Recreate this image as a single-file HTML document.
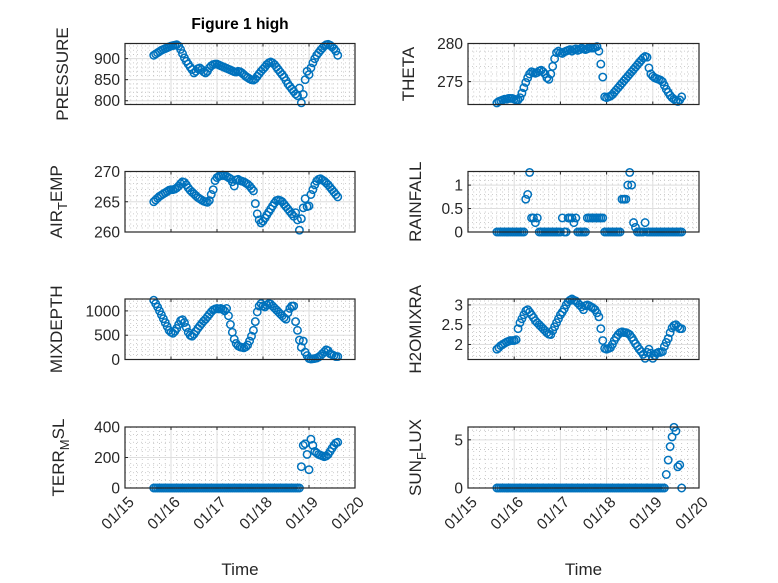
<!DOCTYPE html>
<html><head><meta charset="utf-8"><style>
html,body{margin:0;padding:0;background:#fff;}
svg{display:block;font-family:"Liberation Sans",sans-serif;}
</style></head><body>
<svg id="fig" width="778" height="583" viewBox="0 0 778 583" xmlns="http://www.w3.org/2000/svg">
<rect width="778" height="583" fill="#fff"/>
<text x="240" y="29" text-anchor="middle" font-size="15.5" font-weight="bold" fill="#000">Figure 1 high</text>
</svg>
<script>
const pressure=[908,911,914,917,920,922,924,926,928,930,931,932,933,930,922,912,902,894,887,880,874,866,870,876,878,874,869,866,870,878,883,886,887,887,885,883,881,879,877,875,873,871,869,868,870,869,866,862,858,855,852,850,849,852,858,864,870,875,880,886,890,892,890,886,880,874,868,862,856,848,840,834,828,822,816,812,830,795,815,850,870,862,878,890,900,908,914,920,925,930,933,934,932,928,924,918,908];
const theta=[272.2,272.4,272.5,272.6,272.7,272.7,272.8,272.8,272.8,272.7,272.6,272.6,272.9,273.5,274.2,274.9,275.5,276.0,276.3,276.2,276.1,276.2,276.4,276.5,276.3,276.0,275.5,275.3,276.0,277.0,278.0,278.8,279.0,278.8,278.7,278.9,279.0,279.1,279.2,279.0,279.2,279.3,279.1,279.2,279.4,279.3,279.2,279.3,279.5,279.4,279.4,279.5,279.6,279.0,277.3,275.6,273.0,272.9,273.0,273.1,273.3,273.6,273.9,274.2,274.5,274.8,275.1,275.4,275.7,276.0,276.3,276.6,276.9,277.2,277.5,277.8,278.1,278.3,278.2,276.8,276.0,275.7,275.5,275.4,275.3,275.2,275.0,274.5,274.0,273.6,273.2,272.9,272.7,272.5,272.4,272.6,273.0];
const airTemp=[265.0,265.3,265.6,265.9,266.1,266.3,266.5,266.7,266.9,267.0,267.0,267.1,267.3,267.6,268.0,268.3,268.2,267.8,267.3,266.9,266.6,266.3,266.0,265.7,265.5,265.3,265.1,265.0,264.9,265.2,266.2,267.0,268.5,269.0,269.2,269.3,269.4,269.3,269.2,269.0,268.8,268.3,267.6,268.6,268.7,268.5,268.4,268.3,268.1,267.9,267.6,267.2,266.8,264.7,263.0,262.0,261.5,261.8,262.3,262.8,263.3,263.8,264.3,264.8,265.2,265.3,265.2,265.0,264.6,264.2,263.8,263.4,263.0,262.6,263.2,262.0,260.3,262.2,264.0,265.5,264.2,264.3,266.2,267.0,267.8,268.4,268.7,268.8,268.6,268.4,268.1,267.8,267.4,267.0,266.6,266.2,265.8];
const rainfall=[0,0,0,0,0,0,0,0,0,0,0,0,0,0,0,0.7,0.8,1.27,0.3,0.3,0.2,0.3,0,0,0,0,0,0,0,0,0,0,0,0,0.3,0,0,0.3,0.3,0.3,0.2,0.3,0,0,0,0,0,0.3,0.3,0.3,0.3,0.3,0.3,0.3,0.3,0.3,0,0,0,0,0,0,0,0,0,0.7,0.7,0.7,1.0,1.27,1.0,0.2,0.1,0,0,0,0,0.2,0,0,0,0,0,0,0,0,0,0,0,0,0,0,0,0,0,0,0];
const mixDepth=[1220,1150,1080,1000,920,840,760,680,600,560,540,580,640,720,800,820,760,660,560,500,480,520,580,640,690,740,790,830,880,930,980,1020,1040,1050,1040,1050,1030,1000,1050,900,720,560,420,330,280,260,250,240,260,300,380,480,600,780,980,1100,1150,1100,1080,1120,1150,1140,1100,1060,1020,980,940,900,860,830,960,1050,1100,1100,780,600,400,250,380,150,80,20,10,15,20,30,50,80,120,160,200,180,120,100,80,60,60];
const h2oMixRatio=[1.88,1.92,1.97,2.00,2.03,2.06,2.08,2.10,2.10,2.10,2.12,2.40,2.55,2.65,2.75,2.85,2.88,2.82,2.75,2.68,2.60,2.55,2.50,2.45,2.40,2.35,2.30,2.26,2.25,2.35,2.45,2.55,2.65,2.75,2.82,2.90,3.00,3.08,3.12,3.15,3.12,3.10,3.05,3.00,2.95,2.88,2.98,3.00,2.98,2.95,2.92,2.88,2.80,2.70,2.40,2.10,1.90,1.88,1.90,1.92,2.00,2.10,2.18,2.25,2.30,2.32,2.30,2.30,2.28,2.25,2.18,2.10,2.02,1.95,1.88,1.82,1.75,1.65,1.80,1.88,1.78,1.65,1.72,1.78,1.80,1.80,1.82,1.95,2.05,2.15,2.30,2.42,2.48,2.50,2.45,2.40,2.40];
const terrMsl=[0,0,0,0,0,0,0,0,0,0,0,0,0,0,0,0,0,0,0,0,0,0,0,0,0,0,0,0,0,0,0,0,0,0,0,0,0,0,0,0,0,0,0,0,0,0,0,0,0,0,0,0,0,0,0,0,0,0,0,0,0,0,0,0,0,0,0,0,0,0,0,0,0,0,0,0,0,140,280,290,220,120,320,280,240,230,220,215,210,205,210,220,240,260,280,295,300];
const sunFlux=[0,0,0,0,0,0,0,0,0,0,0,0,0,0,0,0,0,0,0,0,0,0,0,0,0,0,0,0,0,0,0,0,0,0,0,0,0,0,0,0,0,0,0,0,0,0,0,0,0,0,0,0,0,0,0,0,0,0,0,0,0,0,0,0,0,0,0,0,0,0,0,0,0,0,0,0,0,0,0,0,0,0,0,0,0,0,0,0,1.4,2.9,4.3,5.3,6.3,5.9,2.2,2.4,0];
const startDay=0.625;
const stepHours=1;
const xTickLabels=["01/15","01/16","01/17","01/18","01/19","01/20"];

const NS="http://www.w3.org/2000/svg";
const svg=document.getElementById('fig');
function mk(tag,attrs,parent){const e=document.createElementNS(NS,tag);for(const k in attrs)e.setAttribute(k,attrs[k]);(parent||svg).appendChild(e);return e;}

const panels=[
 {name:'pressure',data:pressure,col:0,row:0,ylim:[791,936],ticks:[800,850,900],minor:10,label:['PRESSURE']},
 {name:'theta',data:theta,col:1,row:0,ylim:[272,280],ticks:[275,280],minor:1,label:['THETA']},
 {name:'air-temp',data:airTemp,col:0,row:1,ylim:[260,270],ticks:[260,265,270],minor:1,label:['AIR','T','EMP']},
 {name:'rainfall',data:rainfall,col:1,row:1,ylim:[0,1.29],ticks:[0,0.5,1],minor:0.1,label:['RAINFALL']},
 {name:'mixdepth',data:mixDepth,col:0,row:2,ylim:[0,1245],ticks:[0,500,1000],minor:100,label:['MIXDEPTH']},
 {name:'h2o-mix-ratio',data:h2oMixRatio,col:1,row:2,ylim:[1.62,3.15],ticks:[2,2.5,3],minor:0.1,label:['H2OMIXRA']},
 {name:'terr-msl',data:terrMsl,col:0,row:3,ylim:[0,400],ticks:[0,200,400],minor:50,label:['TERR','M','SL']},
 {name:'sun-flux',data:sunFlux,col:1,row:3,ylim:[0,6.33],ticks:[0,5],minor:1,label:['SUN','F','LUX']}
];
const colX=[[125,355],[468,699]];
const rowY=[[43.5,104.5],[171.5,232],[299,359.5],[427,488]];
const labelX=[[68,62,62,64],[414,421,421,421]];

panels.forEach(p=>{
 const [x0,x1]=colX[p.col],[y0,y1]=rowY[p.row];
 const g=mk('g',{});
 
 
 const xs=d=>x0+(d/5)*(x1-x0);
 const ys=v=>y1-(v-p.ylim[0])/(p.ylim[1]-p.ylim[0])*(y1-y0);
 for(let d=0.125;d<5;d+=0.125){ if(Math.abs(d-Math.round(d))<1e-6)continue;
  const l=mk('line',{x1:xs(d),x2:xs(d),y1:y0,y2:y1,stroke:'#bdbdbd','stroke-width':0.8,'stroke-dasharray':'1 3'},g);
  
  }
 const mstart=Math.ceil(p.ylim[0]/p.minor);
 for(let k=mstart;k*p.minor<=p.ylim[1];k++){const v=k*p.minor;
  if(p.ticks.some(t=>Math.abs(t-v)<1e-6))continue;
  const l=mk('line',{x1:x0,x2:x1,y1:ys(v),y2:ys(v),stroke:'#bdbdbd','stroke-width':0.8,'stroke-dasharray':'1 3'},g);
  
  }
 for(let d=1;d<5;d++){const l=mk('line',{x1:xs(d),x2:xs(d),y1:y0,y2:y1,stroke:'#dedede','stroke-width':1},g);
  
  }
 p.ticks.forEach(t=>{const yy=ys(t);
  const l=mk('line',{x1:x0,x2:x1,y1:yy,y2:yy,stroke:'#dedede','stroke-width':1},g);
  
  
  const tk=mk('line',{x1:x0,x2:x0+3,y1:yy,y2:yy,stroke:'#262626','stroke-width':1},g);
  
  
  const tx=mk('text',{x:x0-5,y:yy+5.5,'text-anchor':'end','font-size':15.5,fill:'#262626'},g);
  tx.textContent=String(t);
  
  });
 for(let d=0;d<=5;d++){const tk=mk('line',{x1:xs(d),x2:xs(d),y1:y1,y2:y1-3,stroke:'#262626','stroke-width':1},g);
  
  
  const tk2=mk('line',{x1:xs(d),x2:xs(d),y1:y0,y2:y0+3,stroke:'#262626','stroke-width':1},g);
  
  }
 p.data.forEach((v,i)=>{const d=startDay+i*stepHours/24;
  const c=mk('circle',{cx:xs(d),cy:ys(v),r:3.7,fill:'none',stroke:'#0072BD','stroke-width':1.5},g);
  
  });
 const box=mk('rect',{x:x0,y:y0,width:x1-x0,height:y1-y0,fill:'none',stroke:'#262626','stroke-width':1.2},g);
 
 
 const lx=labelX[p.col][p.row],ly=(y0+y1)/2;
 const yl=mk('text',{x:lx,y:ly,'text-anchor':'middle','font-size':17,fill:'#262626',transform:`rotate(-90 ${lx} ${ly})`},g);
 
 
 if(p.label.length===1){yl.textContent=p.label[0];}
 else{const a=mk('tspan',{},yl);a.textContent=p.label[0];
  const b=mk('tspan',{dy:5,'font-size':13},yl);b.textContent=p.label[1];
  const c=mk('tspan',{dy:-5},yl);c.textContent=p.label[2];}
 if(p.row===3){
  xTickLabels.forEach((s,d)=>{const tx=xs(d)+10,ty=y1+15;
   const t=mk('text',{x:tx,y:ty,'text-anchor':'end','font-size':15.5,fill:'#262626',transform:`rotate(-45 ${tx} ${ty})`},g);
   t.textContent=s;
   
   });
  const xl=mk('text',{x:(x0+x1)/2,y:575,'text-anchor':'middle','font-size':17,fill:'#262626'},g);
  xl.textContent='Time';
  
  
 }
});
</script>
</body></html>
